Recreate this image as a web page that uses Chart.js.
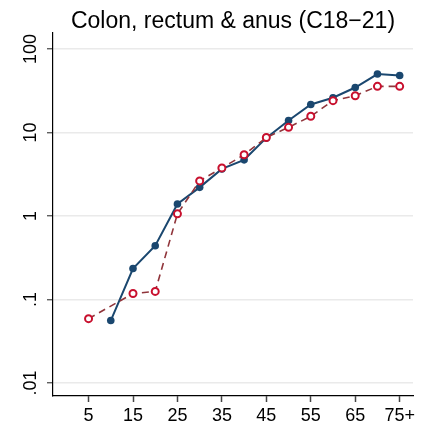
<!DOCTYPE html>
<html>
<head>
<meta charset="utf-8">
<script src="https://cdn.jsdelivr.net/npm/chart.js@4"></script>
<style>
  body { margin: 0; background: #fff; }
</style>
</head>
<body>
<canvas id="grafico" width="430" height="428"></canvas>
<script>
// Datos
const titulo = "Colon, rectum & anus (C18\u221221)";
const edades = [5, 10, 15, 20, 25, 30, 35, 40, 45, 50, 55, 60, 65, 70, 75];
const tasaAzul = [null, 0.056, 0.235, 0.44, 1.39, 2.2, 3.66, 4.7, 8.6, 13.9, 21.6, 26, 34.5, 50, 48];
const tasaRoja = [0.059, null, 0.118, 0.125, 1.06, 2.63, 3.76, 5.4, 8.7, 11.5, 15.6, 24, 27.5, 35.6, 35.6];
const xTicks = [5, 15, 25, 35, 45, 55, 65, 75];
const xTickLabels = ["5", "15", "25", "35", "45", "55", "65", "75+"];
const yTicks = [0.01, 0.1, 1, 10, 100];
const yTickLabels = [".01", ".1", "1", "10", "100"];

const fuente = "'Liberation Sans', Arial, sans-serif";

// Pasamos a puntos {x, y}
const puntos = (serie) => edades.map((e, i) => ({ x: e, y: serie[i] }));

// Titulo y etiquetas del eje Y giradas (como en Stata)
const textosExtra = {
    id: 'textosExtra',
    afterDraw(chart) {
        const ctx = chart.ctx;
        const area = chart.chartArea;
        const y = chart.scales.y;
        ctx.save();
        ctx.fillStyle = '#000';
        ctx.font = "23px " + fuente;
        ctx.textAlign = 'center';
        ctx.textBaseline = 'alphabetic';
        ctx.fillText(titulo, (area.left + area.right) / 2, 28);

        ctx.font = "18px " + fuente;
        yTicks.forEach((v, i) => {
            ctx.save();
            ctx.translate(36, y.getPixelForValue(v));
            ctx.rotate(-Math.PI / 2);
            ctx.fillText(yTickLabels[i], 0, 0);
            ctx.restore();
        });
        ctx.restore();
    }
};

const ctx = document.getElementById('grafico');

new Chart(ctx, {
    type: 'line',
    data: {
        datasets: [{
            data: puntos(tasaRoja),
            borderColor: '#90353b',
            borderWidth: 1.6,
            borderDash: [7, 5],
            pointRadius: 3.5,
            pointBorderWidth: 2,
            pointBorderColor: '#c8102e',
            pointBackgroundColor: '#fff',
            spanGaps: true,
            tension: 0
        }, {
            data: puntos(tasaAzul),
            borderColor: '#1a476f',
            borderWidth: 2,
            pointRadius: 3.8,
            pointBorderWidth: 0,
            pointBackgroundColor: '#1a476f',
            spanGaps: true,
            tension: 0
        }]
    },
    options: {
        responsive: false,
        animation: false,
        devicePixelRatio: 1,
        layout: { padding: { top: 33, right: 17, left: 0, bottom: 0 } },
        plugins: {
            legend: { display: false },
            tooltip: { enabled: false },
            title: { display: false }
        },
        scales: {
            x: {
                type: 'linear',
                min: -3,
                max: 78,
                afterBuildTicks: (s) => { s.ticks = xTicks.map(v => ({ value: v })); },
                afterFit: (s) => { s.height = 32; },
                ticks: {
                    autoSkip: false,
                    maxRotation: 0,
                    padding: 3,
                    color: '#000',
                    font: { family: fuente, size: 18 },
                    callback: (v) => xTickLabels[xTicks.indexOf(v)]
                },
                grid: { drawOnChartArea: false, drawTicks: true, tickLength: 6, tickColor: '#444', tickWidth: 1.5 },
                border: { color: '#000', width: 1.2 }
            },
            y: {
                type: 'logarithmic',
                min: 0.007,
                max: 155,
                afterBuildTicks: (s) => { s.ticks = yTicks.map(v => ({ value: v })); },
                afterFit: (s) => { s.width = 53; },
                ticks: { display: false },
                grid: { color: '#eaeaea', lineWidth: 1.5, tickLength: 6, tickColor: '#444', tickWidth: 1.2 },
                border: { color: '#000', width: 1.2 }
            }
        }
    },
    plugins: [textosExtra]
});
</script>
</body>
</html>
